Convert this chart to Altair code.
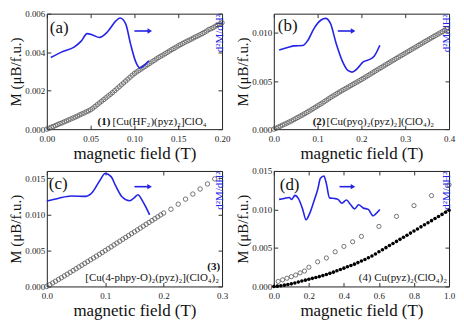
import altair as alt
import pandas as pd

SERIF = "Liberation Serif"
BLUE = "#2424e6"
GRAY = "#555555"
W, H = 176, 116

# ---------------- panel (a) ----------------
a_H = [0.0000,0.0025,0.0050,0.0075,0.0100,0.0125,0.0150,0.0175,0.0200,0.0225,
       0.0250,0.0275,0.0300,0.0325,0.0350,0.0375,0.0400,0.0425,0.0450,0.0475,
       0.0500,0.0525,0.0550,0.0575,0.0600,0.0625,0.0650,0.0675,0.0700,0.0725,
       0.0750,0.0775,0.0800,0.0825,0.0850,0.0875,0.0900,0.0925,0.0950,0.0975,
       0.1000,0.1025,0.1050,0.1075,0.1100,0.1125,0.1150,0.1175,0.1200,0.1225,
       0.1250,0.1275,0.1300,0.1325,0.1350,0.1375,0.1400,0.1425,0.1450,0.1475,
       0.1500,0.1525,0.1550,0.1575,0.1600,0.1625,0.1650,0.1675,0.1700,0.1725,
       0.1750,0.1775,0.1800,0.1825,0.1850,0.1875,0.1900,0.1925,0.1950,0.1975,
       0.2000]
a_M = [0.00000,0.00005,0.00010,0.00014,0.00019,0.00024,0.00029,0.00033,0.00038,0.00043,
       0.00048,0.00053,0.00058,0.00063,0.00068,0.00074,0.00079,0.00084,0.00090,0.00095,
       0.00101,0.00109,0.00118,0.00127,0.00136,0.00145,0.00154,0.00163,0.00172,0.00181,
       0.00190,0.00200,0.00210,0.00220,0.00230,0.00240,0.00250,0.00260,0.00270,0.00280,
       0.00289,0.00297,0.00305,0.00312,0.00320,0.00327,0.00335,0.00342,0.00350,0.00357,
       0.00365,0.00372,0.00379,0.00385,0.00392,0.00399,0.00406,0.00413,0.00419,0.00426,
       0.00433,0.00439,0.00445,0.00451,0.00457,0.00462,0.00468,0.00474,0.00480,0.00485,
       0.00491,0.00497,0.00503,0.00510,0.00518,0.00522,0.00528,0.00535,0.00541,0.00547,
       0.00553]
a_dH = [0.0045,0.0166,0.0316,0.0392,0.046,0.0523,0.0599,0.0693,0.0788,0.0836,
        0.09,0.0957,0.1014,0.1062,0.1107,0.1164]
a_d2 = [0.62,0.667,0.713,0.762,0.827,0.815,0.794,0.843,0.937,0.962,
        0.911,0.734,0.585,0.531,0.55,0.593]
a_arrow = [0.100, 0.1175, 0.85]

# ---------------- panel (b) ----------------
b_H = [0.000,0.005,0.010,0.015,0.020,0.025,0.030,0.035,0.040,0.045,
       0.050,0.055,0.060,0.065,0.070,0.075,0.080,0.085,0.090,0.095,
       0.100,0.105,0.110,0.115,0.120,0.125,0.130,0.135,0.140,0.145,
       0.150,0.155,0.160,0.165,0.170,0.175,0.180,0.185,0.190,0.195,
       0.200,0.205,0.210,0.215,0.220,0.225,0.230,0.235,0.240,0.245,
       0.250,0.255,0.260,0.265,0.270,0.275,0.280,0.285,0.290,0.295,
       0.300,0.305,0.310,0.315,0.320,0.325,0.330,0.335,0.340,0.345,
       0.350,0.355,0.360,0.365,0.370,0.375,0.380,0.385,0.390,0.395]
b_M = [0.00000,0.00010,0.00021,0.00031,0.00042,0.00052,0.00063,0.00074,0.00085,0.00097,
       0.00110,0.00122,0.00135,0.00147,0.00160,0.00173,0.00186,0.00200,0.00214,0.00228,
       0.00242,0.00256,0.00270,0.00285,0.00300,0.00315,0.00330,0.00344,0.00358,0.00372,
       0.00386,0.00399,0.00412,0.00425,0.00438,0.00451,0.00464,0.00477,0.00490,0.00503,
       0.00516,0.00529,0.00543,0.00557,0.00571,0.00585,0.00599,0.00613,0.00627,0.00640,
       0.00654,0.00668,0.00682,0.00695,0.00709,0.00722,0.00736,0.00749,0.00763,0.00776,
       0.00790,0.00803,0.00816,0.00830,0.00843,0.00856,0.00870,0.00883,0.00896,0.00910,
       0.00923,0.00936,0.00949,0.00962,0.00975,0.00988,0.01001,0.01014,0.01027,0.01040]
b_dH = [0.0122,0.0315,0.0467,0.066,0.0775,0.0926,0.108,0.118,0.129,0.1425,
        0.158,0.169,0.1786,0.191,0.204,0.219,0.229,0.242]
b_d2 = [0.686,0.707,0.721,0.724,0.768,0.877,0.945,0.959,0.918,0.74,
        0.576,0.508,0.494,0.527,0.582,0.604,0.631,0.727]
b_arrow = [0.146, 0.181, 0.85]

# ---------------- panel (c) ----------------
c_H = [0.000,0.005,0.010,0.015,0.020,0.025,0.030,0.035,0.040,0.045,
       0.050,0.055,0.060,0.065,0.070,0.075,0.080,0.085,0.090,0.095,
       0.100,0.105,0.110,0.115,0.120,0.125,0.130,0.135,0.140,0.145,
       0.150,0.155,0.160,0.165,0.170,0.175,0.180,0.185,0.190,0.195,
       0.200,
       0.2125,0.225,0.2375,0.250,0.2625,0.275,0.2875]
c_M = [0.00000,0.00024,0.00048,0.00072,0.00097,0.00121,0.00146,0.00170,0.00195,0.00220,
       0.00245,0.00270,0.00295,0.00320,0.00345,0.00370,0.00395,0.00420,0.00446,0.00471,
       0.00497,0.00523,0.00549,0.00575,0.00601,0.00627,0.00653,0.00679,0.00705,0.00731,
       0.00757,0.00783,0.00809,0.00835,0.00861,0.00887,0.00913,0.00939,0.00965,0.00991,
       0.01017,
       0.01070,0.01140,0.01210,0.01280,0.01350,0.01420,0.01490]
c_dH = [0.0,0.019,0.042,0.067,0.078,0.09,0.1,0.11,0.118,0.129,
        0.142,0.150,0.156,0.163,0.169,0.176]
c_d2 = [0.74,0.762,0.783,0.78,0.815,0.911,0.978,0.951,0.87,0.775,
        0.742,0.77,0.794,0.748,0.693,0.62]
c_arrow = [0.150, 0.176, 0.864]

# ---------------- panel (d) ----------------
d_open_H = [0.025,0.05,0.075,0.1,0.125,0.15,0.175,0.2,0.25,0.3,
            0.35,0.4,0.45,0.5,0.6,0.7,0.8,0.9,1.0]
d_open_M = [0.00065,0.00086,0.00107,0.00127,0.00148,0.00176,0.00200,0.00250,0.00320,0.00370,
            0.00450,0.00520,0.00580,0.00650,0.00780,0.00910,0.01050,0.01180,0.01320]
d_fill_H = [0.00,0.02,0.04,0.06,0.08,0.10,0.12,0.14,0.16,0.18,
            0.20,0.22,0.24,0.26,0.28,0.30,0.32,0.34,0.36,0.38,
            0.40,0.42,0.44,0.46,0.48,0.50,0.52,0.54,0.56,0.58,
            0.60,0.62,0.64,0.66,0.68,0.70,0.72,0.74,0.76,0.78,
            0.80,0.82,0.84,0.86,0.88,0.90,0.92,0.94,0.96,0.98,
            1.00]
d_fill_M = [0.00000,0.00004,0.00010,0.00017,0.00025,0.00034,0.00045,0.00057,0.00070,0.00082,
            0.00094,0.00105,0.00116,0.00128,0.00141,0.00155,0.00170,0.00186,0.00204,0.00221,
            0.00238,0.00255,0.00272,0.00290,0.00310,0.00330,0.00351,0.00373,0.00396,0.00422,
            0.00450,0.00477,0.00504,0.00531,0.00558,0.00585,0.00612,0.00639,0.00666,0.00693,
            0.00720,0.00747,0.00774,0.00801,0.00828,0.00855,0.00882,0.00909,0.00936,0.00963,
            0.00990]
d_dH = [0.03,0.059,0.088,0.102,0.121,0.14,0.165,0.184,0.203,0.228,
        0.251,0.266,0.286,0.299,0.318,0.347,0.366,0.389,0.414,0.439,
        0.461,0.484,0.51,0.539,0.567,0.58,0.605]
d_d2 = [0.754,0.762,0.770,0.754,0.789,0.762,0.667,0.577,0.626,0.734,
        0.843,0.937,0.957,0.897,0.767,0.762,0.754,0.721,0.748,0.707,
        0.672,0.707,0.680,0.667,0.612,0.626,0.667]
d_arrow = [0.375, 0.452, 0.864]


def xenc(dom, vals, fmt):
    return alt.X("H:Q", scale=alt.Scale(domain=dom, nice=False, zero=False),
                 axis=alt.Axis(values=vals, format=fmt, title="magnetic field (T)",
                               labelFont=SERIF, labelFontSize=9, labelColor="#222",
                               labelPadding=5, labelFlush=False, ticks=False, domain=False,
                               grid=True, gridColor="#333", gridWidth=1, gridOpacity=1,
                               gridDash=[4, H - 8],
                               titleFont=SERIF, titleFontSize=17, titleFontWeight="normal",
                               titleColor="#111", titlePadding=2))


def yenc(dom, vals):
    return alt.Y("M:Q", scale=alt.Scale(domain=dom, nice=False, zero=False),
                 axis=alt.Axis(values=vals, format=".3f", title="M (μB/f.u.)",
                               labelFont=SERIF, labelFontSize=9, labelColor="#222",
                               labelPadding=2, labelFlush=False, ticks=False, domain=False,
                               grid=True, gridColor="#333", gridWidth=1, gridOpacity=1,
                               gridDash=[4, W - 8],
                               titleFont=SERIF, titleFontSize=15, titleFontWeight="normal",
                               titleColor="#111", titlePadding=1))


def y2enc():
    return alt.Y("v:Q", scale=alt.Scale(domain=[0, 1], nice=False, zero=False),
                 axis=alt.Axis(orient="right", title="d²M/dH²", labels=False, ticks=False,
                               domain=False, grid=False, titleColor=BLUE, titleFont=SERIF,
                               titleFontSize=11, titleFontWeight="normal",
                               titleAngle=270, titleAnchor="end", titlePadding=2))


def text_layer(txt, x, y, size=11, align="left", weight="normal", baseline="alphabetic"):
    return alt.Chart(pd.DataFrame({"t": [txt]})).mark_text(
        font=SERIF, fontSize=size, align=align, baseline=baseline, fontWeight=weight,
        color="#111").encode(text="t:N", x=alt.value(x), y=alt.value(y))


def panel(xdom, xvals, xfmt, ydom, yvals, point_layers, dH, d2, arrow, texts):
    X = xenc(xdom, xvals, xfmt)
    Y = yenc(ydom, yvals)
    pts = alt.layer(*[p.encode(x=X, y=Y) for p in point_layers])
    curve = alt.Chart(pd.DataFrame({"H": dH, "v": d2})).mark_line(
        color=BLUE, strokeWidth=1.6, interpolate="monotone").encode(x=X, y=y2enc())
    rule = alt.Chart(pd.DataFrame({"H": [arrow[0]], "H2": [arrow[1]], "v": [arrow[2]]})
                     ).mark_rule(color=BLUE, strokeWidth=1.6).encode(
        x=X, x2="H2:Q", y=y2enc())
    head = alt.Chart(pd.DataFrame({"H": [arrow[1]], "v": [arrow[2]]})).mark_point(
        shape="triangle-right", filled=True, size=28, color=BLUE, opacity=1).encode(
        x=X, y=y2enc())
    blue = alt.layer(curve, rule, head)
    return alt.layer(pts, blue, *texts).resolve_scale(y="independent").properties(
        width=W, height=H)


def open_pts(Hs, Ms, size=20):
    return alt.Chart(pd.DataFrame({"H": Hs, "M": Ms})).mark_point(
        shape="circle", filled=False, size=size, strokeWidth=0.8, color=GRAY, opacity=1)


def filled_pts(Hs, Ms):
    return alt.Chart(pd.DataFrame({"H": Hs, "M": Ms})).mark_point(
        shape="circle", filled=True, size=13, color="#000", opacity=1)


pa = panel([0, 0.2], [0, 0.05, 0.1, 0.15, 0.2], ".2f", [0, 0.006],
           [0, 0.002, 0.004, 0.006], [open_pts(a_H, a_M)], a_dH, a_d2, a_arrow,
           [text_layer("(a)", 3, 14, size=17, baseline="middle"),
            text_layer("(1)", 51, H - 4, weight="bold"),
            text_layer("[Cu(HF₂)(pyz)₂]ClO₄", 66, H - 4)])
pb = panel([0, 0.4], [0, 0.1, 0.2, 0.3, 0.4], ".1f", [0, 0.012],
           [0, 0.005, 0.010], [open_pts(b_H, b_M)], b_dH, b_d2, b_arrow,
           [text_layer("(b)", 4, 12, size=17, baseline="middle"),
            text_layer("(2)", 39, H - 4, weight="bold"),
            text_layer("[Cu(pyo)₂(pyz)₂](ClO₄)₂", 53, H - 4)])
pc = panel([0, 0.3], [0, 0.1, 0.2, 0.3], ".1f", [0, 0.016],
           [0, 0.005, 0.010, 0.015], [open_pts(c_H, c_M)], c_dH, c_d2, c_arrow,
           [text_layer("(c)", 2, 13, size=17, baseline="middle"),
            text_layer("(3)", W - 2, H - 17, align="right", weight="bold"),
            text_layer("[Cu(4-phpy-O)₂(pyz)₂](ClO₄)₂", W - 3, H - 5, align="right")])
pd_ = panel([0, 1.0], [0, 0.2, 0.4, 0.6, 0.8, 1.0], ".1f", [0, 0.015],
            [0, 0.005, 0.010, 0.015],
            [open_pts(d_open_H, d_open_M, size=18), filled_pts(d_fill_H, d_fill_M)],
            d_dH, d_d2, d_arrow,
            [text_layer("(d)", 6, 14, size=17, baseline="middle"),
             text_layer("(4) Cu(pyz)₂(ClO₄)₂", W - 2, H - 5, align="right")])

chart = alt.concat(pa, pb, pc, pd_, columns=2, spacing=4).properties(
    padding=0, background="white"
).configure_view(stroke="#222", strokeWidth=1)

chart.save("out.html", embed_options={"renderer": "svg", "actions": False})
